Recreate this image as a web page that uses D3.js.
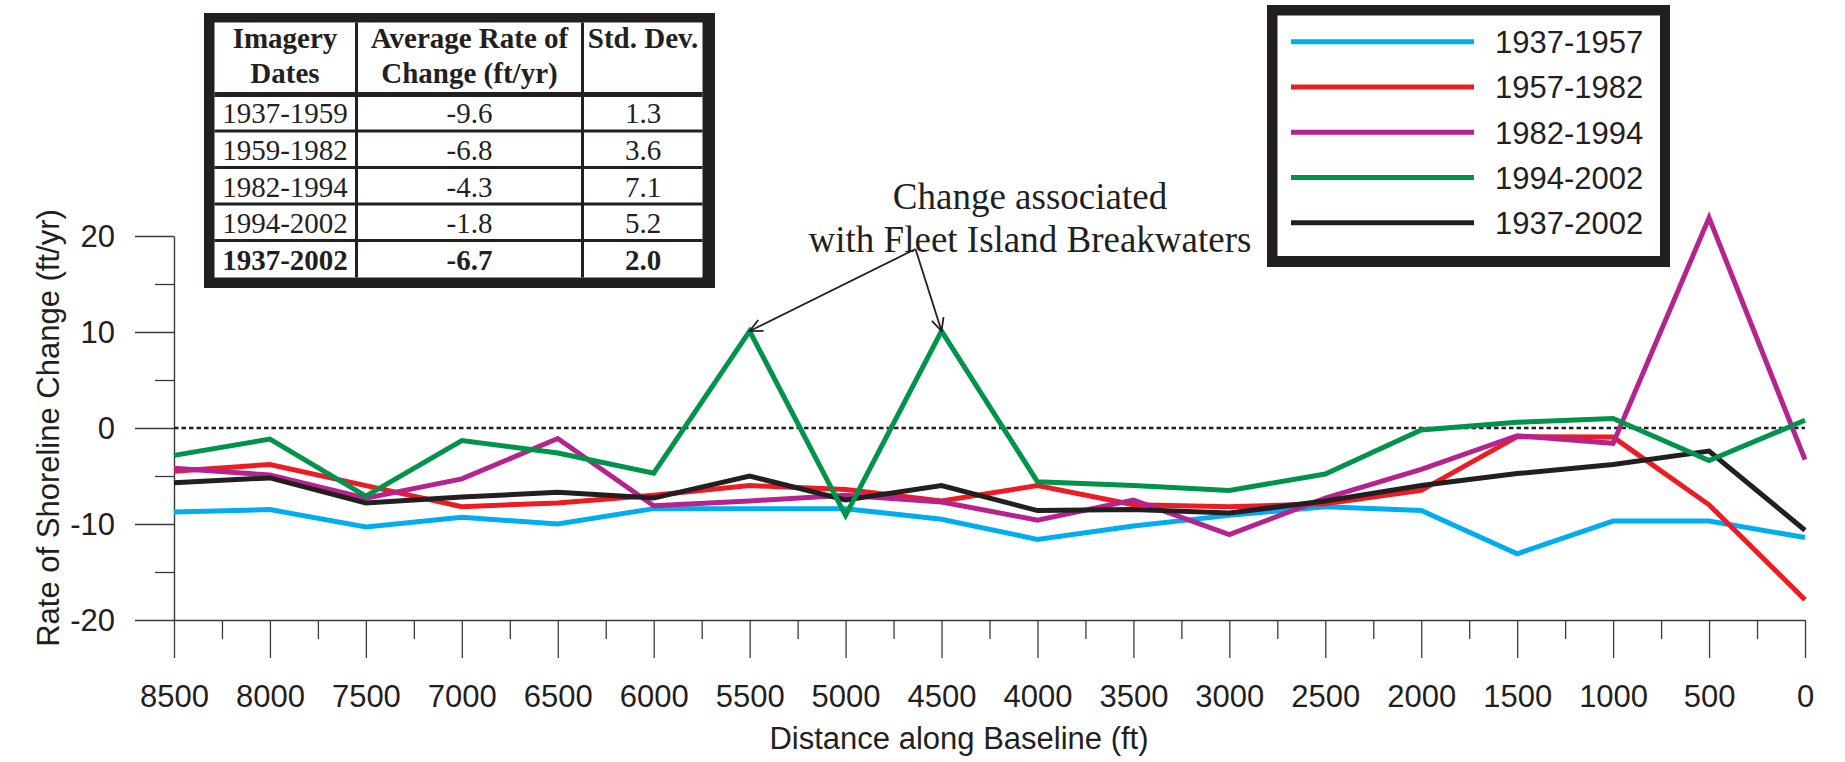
<!DOCTYPE html>
<html>
<head>
<meta charset="utf-8">
<script src="https://cdn.jsdelivr.net/npm/d3@7"></script>
<style>
  html, body { margin: 0; padding: 0; background: #fff; }
  svg { display: block; }
</style>
</head>
<body>
<svg id="chart" width="1845" height="762"></svg>
<script>
// ---------------- DATA ----------------
const distances = [8500, 8000, 7500, 7000, 6500, 6000, 5500, 5000, 4500, 4000, 3500, 3000, 2500, 2000, 1500, 1000, 500, 0];
const minorDistances = [8250, 7750, 7250, 6750, 6250, 5750, 5250, 4750, 4250, 3750, 3250, 2750, 2250, 1750, 1250, 750, 250];
const yMajorTicks = [-20, -10, 0, 10, 20];
const yMinorTicks = [-15, -5, 5, 15];

const seriesNames = ["1937-1957", "1957-1982", "1982-1994", "1994-2002", "1937-2002"];
const seriesColors = ["#00aeef", "#ed1c24", "#b5238f", "#00934a", "#231f20"];

const rate1937_1957 = [-8.75, -8.5, -10.3, -9.3, -10.0, -8.4, -8.4, -8.4, -9.5, -11.6, -10.2, -9.1, -8.2, -8.6, -13.1, -9.7, -9.7, -11.4];
const rate1957_1982 = [-4.5, -3.8, -6.0, -8.2, -7.8, -7.0, -6.0, -6.4, -7.6, -6.0, -8.0, -8.2, -7.9, -6.5, -0.9, -0.95, -8.0, -17.9];
const rate1982_1994 = [-4.2, -4.9, -7.3, -5.3, -1.1, -8.1, -7.6, -7.0, -7.7, -9.6, -7.5, -11.1, -7.3, -4.3, -0.8, -1.6, 21.9, -3.3];
const rate1994_2002 = [-2.85, -1.15, -7.1, -1.3, -2.6, -4.7, 10.1, -9.1, 10.1, -5.6, -6.0, -6.5, -4.8, -0.2, 0.6, 1.0, -3.4, 0.8];
const rate1937_2002 = [-5.7, -5.2, -7.8, -7.2, -6.7, -7.3, -5.0, -7.5, -6.0, -8.6, -8.5, -8.85, -7.6, -6.0, -4.75, -3.8, -2.4, -10.65];

const tableHeader1 = ["Imagery", "Average Rate of", "Std. Dev."];
const tableHeader2 = ["Dates", "Change (ft/yr)", ""];
const tableDates = ["1937-1959", "1959-1982", "1982-1994", "1994-2002", "1937-2002"];
const tableRates = ["-9.6", "-6.8", "-4.3", "-1.8", "-6.7"];
const tableStdDev = ["1.3", "3.6", "7.1", "5.2", "2.0"];

const annotationLines = ["Change associated", "with Fleet Island Breakwaters"];
const annotationTargets = [5500, 4500];

const yTitle = "Rate of Shoreline Change (ft/yr)";
const xTitle = "Distance along Baseline (ft)";

// ---------------- SETUP ----------------
const seriesValues = [rate1937_1957, rate1957_1982, rate1982_1994, rate1994_2002, rate1937_2002];
const series = seriesNames.map((name, i) => ({
  name, color: seriesColors[i],
  values: distances.map((d, j) => ({ d, v: seriesValues[i][j] }))
}));

const INK = "#231f20";
const SANS = "'Liberation Sans', Arial, sans-serif";
const SERIF = "'Liberation Serif', 'Times New Roman', serif";
const plainFmt = d => String(d);

const svg = d3.select("#chart");
const x = d3.scaleLinear().domain([8500, 0]).range([174, 1805]);
const y = d3.scaleLinear().domain([-20, 20]).range([620, 236]);

// ---------------- AXES ----------------
function styleAxis(g) {
  g.selectAll("path.domain").attr("stroke", "#3a3a3a").attr("stroke-width", 1.4);
  g.selectAll(".tick line").attr("stroke", "#3a3a3a").attr("stroke-width", 1.3);
  g.selectAll(".tick text").attr("fill", INK).style("font-family", SANS).style("font-size", "31px");
}

// y axis major
const gyMajor = svg.append("g").attr("transform", `translate(${x(8500)},0)`)
  .call(d3.axisLeft(y).tickValues(yMajorTicks).tickSize(39).tickSizeOuter(0).tickPadding(20).tickFormat(plainFmt));
styleAxis(gyMajor);
gyMajor.selectAll(".tick text").attr("dy", "0.35em");
// y axis minor
const gyMinor = svg.append("g").attr("transform", `translate(${x(8500)},0)`)
  .call(d3.axisLeft(y).tickValues(yMinorTicks).tickSize(19).tickFormat(""));
styleAxis(gyMinor);
gyMinor.select("path.domain").remove();

// x axis major
const gxMajor = svg.append("g").attr("transform", `translate(0,${y(-20)})`)
  .call(d3.axisBottom(x).tickValues(distances).tickSize(38).tickSizeOuter(0).tickPadding(27).tickFormat(plainFmt));
styleAxis(gxMajor);
// x axis minor
const gxMinor = svg.append("g").attr("transform", `translate(0,${y(-20)})`)
  .call(d3.axisBottom(x).tickValues(minorDistances).tickSize(19).tickFormat(""));
styleAxis(gxMinor);
gxMinor.select("path.domain").remove();

// zero line (dotted)
svg.append("line")
  .attr("x1", x(8500)).attr("x2", x(0))
  .attr("y1", y(0)).attr("y2", y(0))
  .attr("stroke", INK).attr("stroke-width", 2.6)
  .attr("stroke-dasharray", "4.5,3");

// ---------------- LINES ----------------
const line = d3.line().x(p => x(p.d)).y(p => y(p.v));
const drawOrder = [0, 1, 2, 4, 3];
svg.append("g").selectAll("path")
  .data(drawOrder.map(i => series[i]))
  .join("path")
  .attr("d", s => line(s.values))
  .attr("fill", "none")
  .attr("stroke", s => s.color)
  .attr("stroke-width", 5)
  .attr("stroke-linejoin", "miter")
  .attr("stroke-miterlimit", 10);

// ---------------- TITLES ----------------
svg.append("text")
  .attr("transform", `translate(59,${y(0)}) rotate(-90)`)
  .attr("text-anchor", "middle")
  .attr("fill", INK)
  .style("font-family", SANS).style("font-size", "31px")
  .text(yTitle);

svg.append("text")
  .attr("x", 959).attr("y", 749)
  .attr("text-anchor", "middle")
  .attr("fill", INK)
  .style("font-family", SANS).style("font-size", "31px")
  .text(xTitle);

// ---------------- ANNOTATION ----------------
const ann = svg.append("g");
ann.selectAll("text").data(annotationLines).join("text")
  .attr("x", 1030).attr("y", (d, i) => 209 + i * 42.5)
  .attr("text-anchor", "middle")
  .attr("fill", INK)
  .style("font-family", SERIF).style("font-size", "37px")
  .text(d => d);

const apex = [915.5, 249];
annotationTargets.forEach(t => {
  const idx = distances.indexOf(t);
  const tx = x(t), ty = y(rate1994_2002[idx]);
  ann.append("line")
    .attr("x1", apex[0]).attr("y1", apex[1]).attr("x2", tx).attr("y2", ty)
    .attr("stroke", INK).attr("stroke-width", 1.8);
  const ang = Math.atan2(ty - apex[1], tx - apex[0]);
  const len = 14, spread = 0.45;
  const p1 = [tx - len * Math.cos(ang - spread), ty - len * Math.sin(ang - spread)];
  const p2 = [tx - len * Math.cos(ang + spread), ty - len * Math.sin(ang + spread)];
  ann.append("path")
    .attr("d", `M${p1[0]},${p1[1]} L${tx},${ty} L${p2[0]},${p2[1]}`)
    .attr("fill", "none").attr("stroke", INK).attr("stroke-width", 1.8);
});

// ---------------- TABLE ----------------
const tbl = svg.append("g");
tbl.append("rect").attr("x", 204).attr("y", 13).attr("width", 511).attr("height", 275).attr("fill", INK);
tbl.append("rect").attr("x", 214.5).attr("y", 22.5).attr("width", 488).attr("height", 255).attr("fill", "#fff");
// header bottom line
tbl.append("rect").attr("x", 214.5).attr("y", 92).attr("width", 488).attr("height", 5).attr("fill", INK);
// row separators
[131, 167.5, 204, 240.5].forEach(yy => {
  tbl.append("rect").attr("x", 214.5).attr("y", yy - 1.5).attr("width", 488).attr("height", 3).attr("fill", INK);
});
// column separators
[356.5, 582.5].forEach(xx => {
  tbl.append("rect").attr("x", xx - 1.5).attr("y", 22.5).attr("width", 3).attr("height", 255).attr("fill", INK);
});
const colX = [285, 469.5, 643];
function cellText(txt, cx, by, bold) {
  tbl.append("text").attr("x", cx).attr("y", by)
    .attr("text-anchor", "middle").attr("fill", INK)
    .style("font-family", SERIF).style("font-size", "29px")
    .style("font-weight", bold ? "bold" : "normal")
    .text(txt);
}
tableHeader1.forEach((t, i) => cellText(t, colX[i], 48, true));
tableHeader2.forEach((t, i) => { if (t) cellText(t, colX[i], 83, true); });
const rowBase = [123, 160, 196.5, 233, 270];
tableDates.forEach((t, r) => {
  const bold = r === tableDates.length - 1;
  cellText(t, colX[0], rowBase[r], bold);
  cellText(tableRates[r], colX[1], rowBase[r], bold);
  cellText(tableStdDev[r], colX[2], rowBase[r], bold);
});

// ---------------- LEGEND ----------------
const lg = svg.append("g");
lg.append("rect").attr("x", 1267).attr("y", 5).attr("width", 403).attr("height", 262).attr("fill", INK);
lg.append("rect").attr("x", 1277.5).attr("y", 15.5).attr("width", 382.5).attr("height", 240.5).attr("fill", "#fff");
const items = lg.selectAll("g.item").data(series).join("g").attr("class", "item")
  .attr("transform", (d, i) => `translate(0,${41.7 + i * 45.25})`);
items.append("line").attr("x1", 1291).attr("x2", 1474).attr("y1", 0).attr("y2", 0)
  .attr("stroke", d => d.color).attr("stroke-width", 5);
items.append("text").attr("x", 1495).attr("y", 11.5)
  .attr("fill", INK).style("font-family", SANS).style("font-size", "31px")
  .text(d => d.name);
</script>
</body>
</html>
